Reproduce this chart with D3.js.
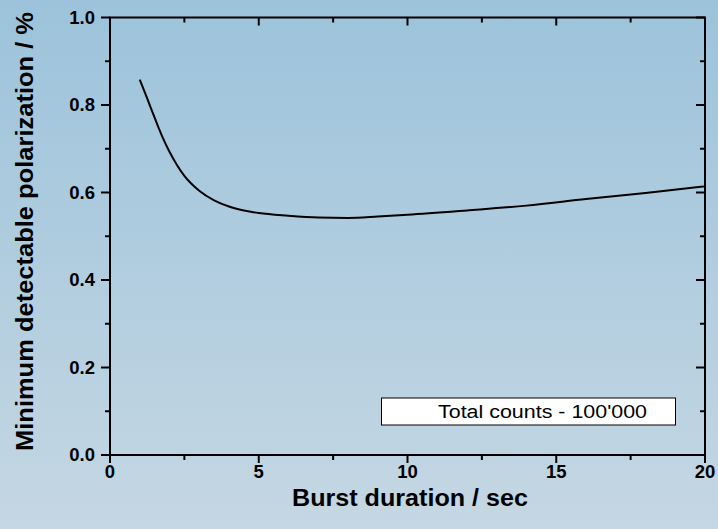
<!DOCTYPE html>
<html>
<head>
<meta charset="utf-8">
<script src="https://cdn.jsdelivr.net/npm/d3@7"></script>
<style>
  html, body { margin: 0; padding: 0; }
  svg { display: block; }
</style>
</head>
<body>
<script>
// Minimum detectable polarization versus burst duration
const durations = [1, 1.25, 1.5, 1.75, 2, 2.25, 2.5, 3, 3.5, 4, 4.5, 5, 6, 7, 8, 9, 10, 12, 14, 16, 18, 20];
const mdp       = [0.858, 0.815, 0.771, 0.729, 0.693, 0.663, 0.638, 0.604, 0.582, 0.568, 0.559, 0.553, 0.547, 0.543, 0.542, 0.545, 0.549, 0.559, 0.570, 0.585, 0.599, 0.614];
const xTicks = [0, 5, 10, 15, 20];
const xMinor = [2.5, 7.5, 12.5, 17.5];
const yTicks = [0.0, 0.2, 0.4, 0.6, 0.8, 1.0];
const yMinor = [0.1, 0.3, 0.5, 0.7, 0.9];
const legendText = "Total counts - 100'000";
const xTitle = "Burst duration / sec";
const yTitle = "Minimum detectable polarization / %";

const W = 718, H = 529;
const plot = { left: 110, right: 705, top: 17.5, bottom: 455 };
const font = "'Liberation Sans', Arial, sans-serif";

const svg = d3.select("body").append("svg").attr("width", W).attr("height", H);

const defs = svg.append("defs");
const grad = defs.append("linearGradient").attr("id", "bg").attr("x1", 0).attr("y1", 0).attr("x2", 0).attr("y2", 1);
grad.append("stop").attr("offset", "0%").attr("stop-color", "#9cc3db");
grad.append("stop").attr("offset", "100%").attr("stop-color", "#c5d7e3");
svg.append("rect").attr("width", W).attr("height", H).attr("fill", "url(#bg)");

const x = d3.scaleLinear().domain([0, 20]).range([plot.left, plot.right]);
const y = d3.scaleLinear().domain([0, 1]).range([plot.bottom, plot.top]);

// tick marks: outward on bottom/left, inward on top/right
const ticks = svg.append("g").attr("stroke", "#000").attr("stroke-width", 2);
function xTickMarks(vals, len) {
  vals.forEach(v => {
    ticks.append("line").attr("x1", x(v)).attr("x2", x(v)).attr("y1", plot.bottom).attr("y2", plot.bottom + len);
    ticks.append("line").attr("x1", x(v)).attr("x2", x(v)).attr("y1", plot.top).attr("y2", plot.top + len);
  });
}
function yTickMarks(vals, len) {
  vals.forEach(v => {
    ticks.append("line").attr("y1", y(v)).attr("y2", y(v)).attr("x1", plot.left).attr("x2", plot.left - len);
    ticks.append("line").attr("y1", y(v)).attr("y2", y(v)).attr("x1", plot.right).attr("x2", plot.right - len);
  });
}
xTickMarks(xTicks, 8);
xTickMarks(xMinor, 5);
yTickMarks(yTicks, 9);
yTickMarks(yMinor, 5);

// tick labels
svg.append("g").selectAll("text").data(xTicks).join("text")
  .attr("x", d => x(d)).attr("y", 477.5).attr("text-anchor", "middle")
  .attr("font-family", font).attr("font-weight", "bold").attr("font-size", 18.5)
  .text(d3.format("d"));
svg.append("g").selectAll("text").data(yTicks).join("text")
  .attr("x", 95).attr("y", d => y(d)).attr("dy", "0.35em").attr("text-anchor", "end")
  .attr("font-family", font).attr("font-weight", "bold").attr("font-size", 18.5)
  .text(d3.format(".1f"));

// frame
svg.append("rect")
  .attr("x", plot.left).attr("y", plot.top)
  .attr("width", plot.right - plot.left).attr("height", plot.bottom - plot.top)
  .attr("fill", "none").attr("stroke", "#000").attr("stroke-width", 2);

// curve
const line = d3.line().x((d, i) => x(durations[i])).y(d => y(d)).curve(d3.curveMonotoneX);
svg.append("path").datum(mdp)
  .attr("d", line)
  .attr("fill", "none").attr("stroke", "#000").attr("stroke-width", 2);

// legend box
const lg = svg.append("g");
lg.append("rect").attr("x", 381.5).attr("y", 398).attr("width", 294).attr("height", 27)
  .attr("fill", "#fff").attr("stroke", "#000").attr("stroke-width", 1);
lg.append("text").attr("x", 438).attr("y", 417.5)
  .attr("font-family", font).attr("font-size", 18)
  .attr("textLength", 209).attr("lengthAdjust", "spacingAndGlyphs")
  .text(legendText);

// axis titles
svg.append("text")
  .attr("x", 410).attr("y", 506).attr("text-anchor", "middle")
  .attr("font-family", font).attr("font-weight", "bold").attr("font-size", 24)
  .attr("textLength", 236).attr("lengthAdjust", "spacingAndGlyphs")
  .text(xTitle);
svg.append("text")
  .attr("transform", `translate(32.5,231.5) rotate(-90)`).attr("text-anchor", "middle")
  .attr("font-family", font).attr("font-weight", "bold").attr("font-size", 24)
  .attr("textLength", 439).attr("lengthAdjust", "spacingAndGlyphs")
  .text(yTitle);
</script>
</body>
</html>
